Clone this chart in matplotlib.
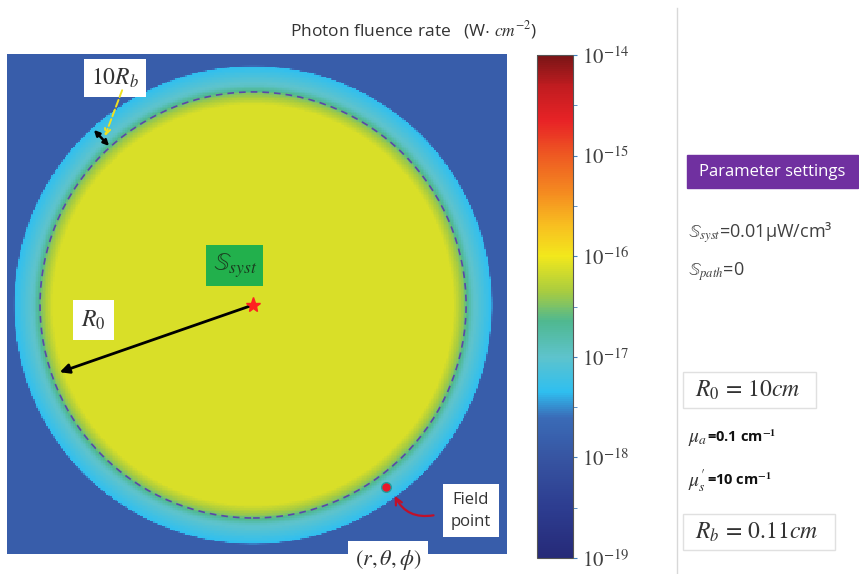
import matplotlib
matplotlib.use("Agg")
import matplotlib.pyplot as plt
import numpy as np
from matplotlib.colors import LinearSegmentedColormap, LogNorm
from matplotlib.patches import Circle, Rectangle

plt.rcParams['mathtext.fontset'] = 'stix'

# radial profile of the fluence rate (cm, log10 W/cm^2)
radius_cm = [0.0, 9.4, 9.9, 10.3, 10.75, 11.2, 11.25, 20.0]
log_fluence = [-16.12, -16.12, -16.45, -16.95, -17.15, -17.35, -17.85, -17.85]
R0 = 10.0
cbar_ticks = [1e-19, 1e-18, 1e-17, 1e-16, 1e-15, 1e-14]
cbar_labels = ['$10^{-19}$', '$10^{-18}$', '$10^{-17}$', '$10^{-16}$', '$10^{-15}$', '$10^{-14}$']
field_point = (6.24, -8.54)

stops = [(0.00, '#262a78'), (0.10, '#2d3d90'), (0.20, '#3755a2'), (0.28, '#3a6cb8'),
         (0.33, '#2fbff0'), (0.40, '#5ec3cc'), (0.47, '#4fb890'), (0.53, '#a8cc40'),
         (0.60, '#f2e81c'), (0.66, '#f8c020'), (0.72, '#f59020'), (0.80, '#ee5a22'),
         (0.87, '#e82326'), (0.94, '#c01c20'), (1.00, '#7a1516')]
cmap = LinearSegmentedColormap.from_list('fluence', stops)

x = np.linspace(-11.55, 11.92, 300)
y = np.linspace(-11.69, 11.78, 300)
X, Y = np.meshgrid(x, y)
R = np.hypot(X, Y)
Z = 10 ** np.interp(R, radius_cm, log_fluence)

fig = plt.figure(figsize=(8.59, 5.74), dpi=100)
ax = fig.add_axes([7 / 859, 20 / 574, 500 / 859, 500 / 574])
norm = LogNorm(vmin=1e-19, vmax=1e-14)
im = ax.pcolormesh(X, Y, Z, cmap=cmap, norm=norm, shading='auto')
ax.set_xlim(-11.55, 11.92)
ax.set_ylim(-11.69, 11.78)
ax.set_xticks([])
ax.set_yticks([])
for s in ax.spines.values():
    s.set_visible(False)

ax.add_patch(Circle((0, 0), R0, fill=False, ls=(0, (4, 3)), lw=1.2, color='#5a48a8'))

# source
ax.plot(0, 0, marker='*', color='#ff2020', ms=11, zorder=5)
ax.text(-0.85, 1.85, r'$\mathbb{S}_{syst}$', fontsize=18, color='#1a4020', ha='center', va='center',
        bbox=dict(boxstyle='square,pad=0.25', fc='#22b04c', ec='none'))

# R0 arrow
ax.annotate('', xy=(-9.2, -3.2), xytext=(0, 0),
            arrowprops=dict(arrowstyle='-|>', color='black', lw=2, mutation_scale=14))
ax.text(-7.5, -0.7, '$R_0$', fontsize=17, color='#333333', ha='center', va='center',
        bbox=dict(boxstyle='square,pad=0.35', fc='white', ec='none'))

# 10Rb
ax.annotate('', xy=(-6.67, 7.37), xytext=(-7.56, 8.31),
            arrowprops=dict(arrowstyle='<|-|>', color='black', lw=1.8, mutation_scale=8))
ax.text(-6.48, 10.66, '$10R_b$', fontsize=17, color='#333333', ha='center', va='center',
        bbox=dict(boxstyle='square,pad=0.3', fc='white', ec='none'))
ax.annotate('', xy=(-7.0, 7.8), xytext=(-6.1, 10.2),
            arrowprops=dict(arrowstyle='->', color='#f0e020', lw=1.4, ls='--', mutation_scale=10))

# field point
ax.plot(*field_point, 'o', color='#e8182a', mec='#20a0a0', ms=7, zorder=5)
ax.annotate('', xy=(field_point[0] + 0.35, field_point[1] - 0.3), xytext=(8.6, -9.85),
            arrowprops=dict(arrowstyle='->', color='#c0102a', lw=1.6,
                            connectionstyle='arc3,rad=-0.4', mutation_scale=12))
ax.text(10.23, -9.67, 'Field\npoint', fontsize=12, color='#333333', ha='center', va='center',
        family='Open Sans', linespacing=1.5,
        bbox=dict(boxstyle='square,pad=0.45', fc='white', ec='none'))
ax.text(6.34, -11.95, r'$(r,\theta,\phi)$', fontsize=16, color='#333333', ha='center', va='center',
        clip_on=False, bbox=dict(boxstyle='square,pad=0.3', fc='white', ec='none'))

# colorbar
cax = fig.add_axes([537 / 859, 16 / 574, 36 / 859, 503 / 574])
cb = fig.colorbar(im, cax=cax)
cb.set_ticks(cbar_ticks)
cb.set_ticklabels(cbar_labels)
cb.ax.yaxis.set_minor_locator(matplotlib.ticker.FixedLocator(
    [10 ** v for v in np.arange(-18.5, -14, 1.0)]))
cb.ax.yaxis.set_minor_formatter(matplotlib.ticker.NullFormatter())
cb.ax.tick_params(which='both', length=3, color='#4080c0', labelsize=15, labelcolor='#404040')
cb.outline.set_edgecolor('#555555')
fig.text(290 / 859, 1 - 30 / 574, 'Photon fluence rate   (W$\\cdot$ $cm^{-2}$)', fontsize=12.5,
         family='Open Sans', color='#333333', va='center', ha='left')

# separator and parameter panel
fig.add_artist(plt.Line2D([677 / 859, 677 / 859], [0, 1 - 8 / 574], color='#d8d8d8', lw=1))
fig.add_artist(Rectangle((687 / 859, 1 - 188 / 574), 171 / 859, 33 / 574, color='#7030a0'))
fig.text(772 / 859, 1 - 172 / 574, 'Parameter settings', fontsize=12, family='Open Sans',
         color='white', ha='center', va='center')
fig.text(688 / 859, 1 - 233 / 574, r'$\mathbb{S}_{syst}$=0.01μW/cm³', fontsize=13,
         family='Open Sans', color='#404040', va='center')
fig.text(688 / 859, 1 - 272 / 574, r'$\mathbb{S}_{path}$=0', fontsize=13,
         family='Open Sans', color='#404040', va='center')

fig.add_artist(Rectangle((683 / 859, 1 - 408 / 574), 133 / 859, 36 / 574, fc='white',
                         ec='#e0e0e0', lw=1))
fig.text(695 / 859, 1 - 390 / 574, '$R_0\\,=\\,10cm$', fontsize=17, color='#333333', va='center')
fig.text(688 / 859, 1 - 438 / 574, r'$\mu_a$', fontsize=14, color='#333333', va='center')
fig.text(707 / 859, 1 - 437 / 574, r'=0.1 cm$^{\mathbf{-1}}$', fontsize=10.5, weight='bold',
         family='Open Sans', color='#111111', va='center')
fig.text(688 / 859, 1 - 481 / 574, r"$\mu_s'$", fontsize=14, color='#333333', va='center')
fig.text(707 / 859, 1 - 480 / 574, r'=10 cm$^{\mathbf{-1}}$', fontsize=10.5, weight='bold',
         family='Open Sans', color='#111111', va='center')
fig.add_artist(Rectangle((683 / 859, 1 - 550 / 574), 152 / 859, 36 / 574, fc='white',
                         ec='#e0e0e0', lw=1))
fig.text(695 / 859, 1 - 532 / 574, '$R_b\\,=\\,0.11cm$', fontsize=17, color='#333333', va='center')

fig.savefig('out.png', dpi=100)
